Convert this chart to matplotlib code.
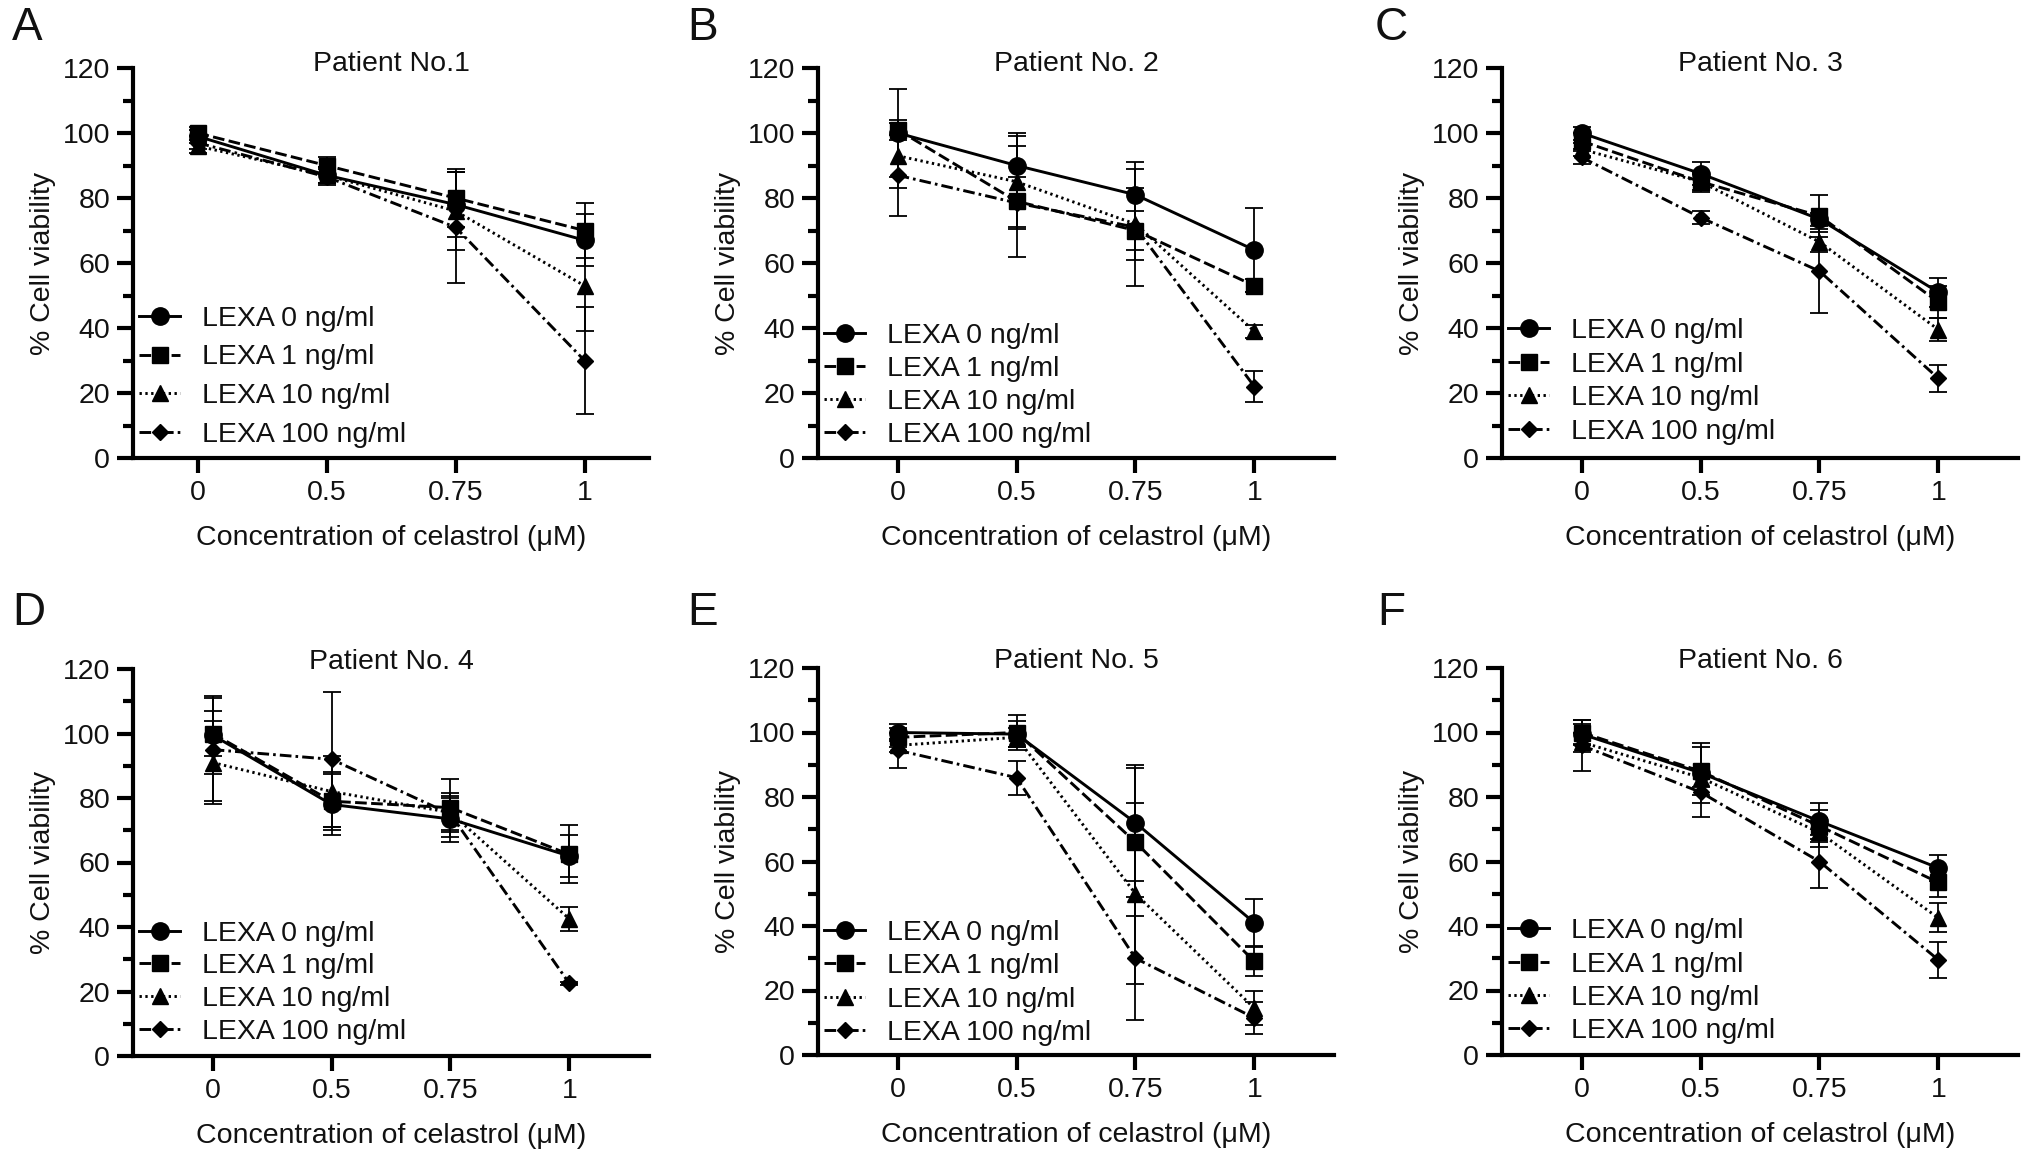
import matplotlib
matplotlib.use('Agg')
import matplotlib.pyplot as plt
from matplotlib.ticker import MultipleLocator

plt.rcParams['font.family'] = ['Liberation Sans', 'DejaVu Sans']

conc_labels = ['0', '0.5', '0.75', '1']
series_labels = ['LEXA 0 ng/ml', 'LEXA 1 ng/ml', 'LEXA 10 ng/ml', 'LEXA 100 ng/ml']
panel_letters = ['A', 'B', 'C', 'D', 'E', 'F']
titles = ['Patient No.1', 'Patient No. 2', 'Patient No. 3',
          'Patient No. 4', 'Patient No. 5', 'Patient No. 6']

# rows: LEXA 0, 1, 10, 100 ng/ml ; columns: celastrol 0, 0.5, 0.75, 1 uM
p1_mean = [[99, 87, 78, 67], [100, 90, 80, 70], [96, 87, 76, 53], [97, 86.5, 71, 30]]
p1_err = [[2, 2.5, 10, 8], [2, 2.5, 9, 8.5], [2, 2.5, 12, 14], [2, 2.5, 17, 16.5]]

p2_mean = [[100, 90, 81, 64], [101, 79, 70, 53], [93, 85, 72, 39], [87, 78.5, 71, 22]]
p2_err = [[13.5, 10, 10, 13], [3, 17, 6, 2], [10, 14, 11, 2], [12.5, 8, 18, 4.7]]

p3_mean = [[100, 87.5, 73.5, 51], [97.5, 85, 74.5, 48], [95, 85, 66.5, 39.5], [92.5, 74, 57.5, 24.5]]
p3_err = [[2, 3.5, 2, 4.5], [2.5, 3, 6.5, 5], [2, 2.5, 3, 3.5], [2, 2, 13, 4.2]]

p4_mean = [[99.5, 78, 73.5, 62], [100, 79, 77, 62.5], [91, 82, 75.5, 42.5], [95, 92, 75, 22.5]]
p4_err = [[12, 9.5, 7, 6.5], [7, 9, 9, 9], [13, 11, 6, 3.8], [16, 21, 5, 0.5]]

p5_mean = [[100, 99.5, 72, 41], [98.5, 100, 66, 29], [96, 98.5, 50, 14.5], [94.5, 86, 30, 11.5]]
p5_err = [[2.5, 4, 18, 7.3], [3, 5.3, 23, 4.5], [2, 3, 28, 5.3], [5.5, 5.3, 19, 4.9]]

p6_mean = [[99.5, 87.5, 72.5, 58], [100, 88, 71, 53.5], [97, 86, 69, 42.5], [96, 81.5, 60, 29.5]]
p6_err = [[3, 9.3, 5.5, 4], [4, 7.5, 5, 4.5], [3, 3, 4.5, 4.5], [8, 7.6, 8.2, 5.5]]

means = [p1_mean, p2_mean, p3_mean, p4_mean, p5_mean, p6_mean]
errs = [p1_err, p2_err, p3_err, p4_err, p5_err, p6_err]

W, H = 2032, 1167
fig = plt.figure(figsize=(W / 100, H / 100), dpi=100)

# axes rectangles in pixels: left, top, right, bottom
rects = [(133, 68, 649, 458), (818, 68, 1334, 458), (1502, 68, 2018, 458),
         (133, 669, 649, 1056), (818, 668, 1334, 1055), (1502, 668, 2018, 1055)]
xlims = [(-0.5, 3.5)] + [(-0.67, 3.67)] * 5
letter_pos = [(12, 6), (687, 6), (1375, 6), (12, 591), (687, 591), (1377, 591)]
legend_y = [0.208, 0.186, 0.196, 0.189, 0.186, 0.191]
legend_spacing = [0.45, 0.25, 0.26, 0.24, 0.25, 0.25]

styles = [dict(marker='o', ms=12.5, ls='-'),
          dict(marker='s', ms=11.5, ls=(0, (4.0, 1.5))),
          dict(marker='^', ms=11.5, ls=(0, (0.8, 1.2))),
          dict(marker='D', ms=7.8, ls=(0, (4.0, 1.4, 0.9, 1.4)))]

FS = 20.5
TXT = '#111111'
for i in range(6):
    l, t, r, b = rects[i]
    ax = fig.add_axes([l / W, 1 - b / H, (r - l) / W, (b - t) / H])
    xs = list(range(len(conc_labels)))
    handles = []
    for j in range(4):
        st = styles[j]
        c = ax.errorbar(xs, means[i][j], yerr=errs[i][j], color='black',
                        marker=st['marker'], ms=st['ms'], linestyle=st['ls'],
                        lw=2.1, elinewidth=1.3, capsize=6.5, capthick=1.3,
                        mec='black', mfc='black', clip_on=False, zorder=3 + j)
        handles.append(c[0])
    ax.set_xlim(*xlims[i])
    ax.set_ylim(0, 120)
    ax.set_xticks(xs)
    ax.set_xticklabels(conc_labels)
    ax.yaxis.set_major_locator(MultipleLocator(20))
    ax.yaxis.set_minor_locator(MultipleLocator(10))
    for s in ['top', 'right']:
        ax.spines[s].set_visible(False)
    for s in ['left', 'bottom']:
        ax.spines[s].set_linewidth(3.0)
    ax.tick_params(axis='y', which='major', length=11.5, width=3.0, pad=5,
                   labelsize=FS, labelcolor=TXT)
    ax.tick_params(axis='y', which='minor', length=7, width=3.0)
    ax.tick_params(axis='x', which='major', length=11, width=3.0, pad=5,
                   labelsize=FS, labelcolor=TXT)
    hpx = b - t
    wpx = r - l
    ax.text(0.5, -80 / hpx, 'Concentration of celastrol (\u03bcM)', transform=ax.transAxes,
            ha='center', va='center', fontsize=FS, color=TXT)
    ax.text(-90 / wpx, 0.5, '% Cell viability', transform=ax.transAxes, rotation=90,
            ha='center', va='center', fontsize=FS, color=TXT)
    ax.text(0.5, 1 - (3 if i < 3 else 0) / hpx, titles[i], transform=ax.transAxes,
            ha='center', va='baseline', fontsize=FS, color=TXT)
    ax.legend(handles=handles, labels=series_labels, loc='center left',
              bbox_to_anchor=(0.012, legend_y[i]), frameon=False, fontsize=FS,
              handlelength=1.45, handletextpad=0.75, borderpad=0, borderaxespad=0,
              labelspacing=legend_spacing[i], numpoints=1, labelcolor=TXT)
    lx, ly = letter_pos[i]
    fig.text(lx / W, 1 - ly / H, panel_letters[i], ha='left', va='top', fontsize=33, color=TXT)

fig.savefig('out.png', dpi=100)
